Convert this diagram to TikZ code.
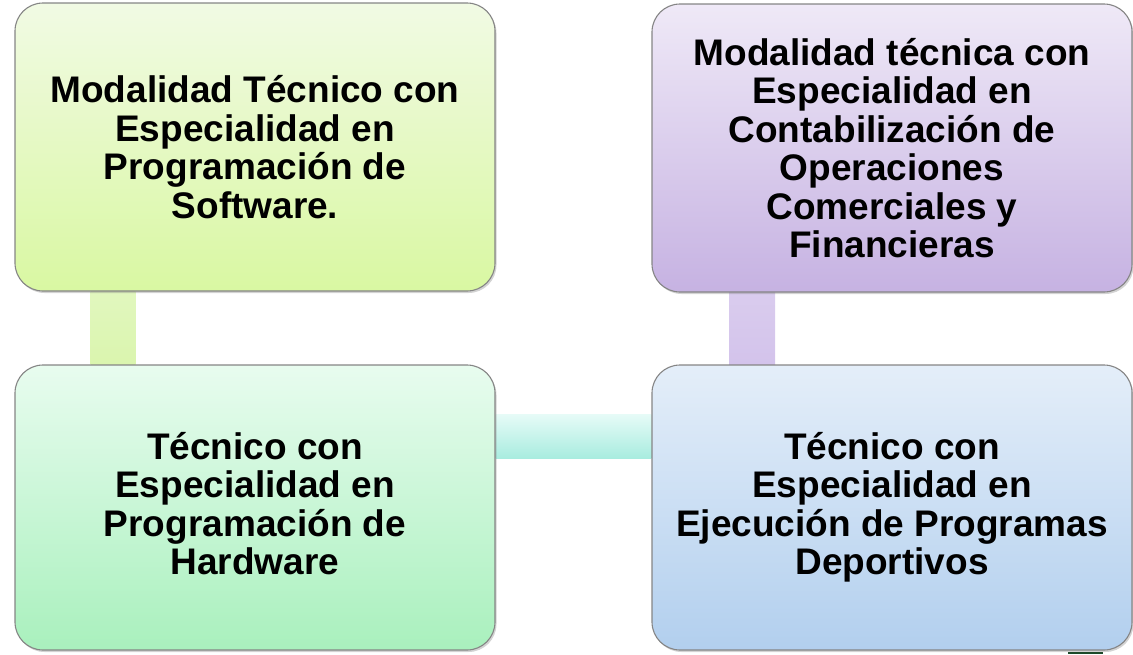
\documentclass[tikz,border=0pt]{standalone}
\usepackage{fontspec}
\setmainfont{Liberation Sans}
\usetikzlibrary{shadows,backgrounds}
\definecolor{boxborder}{HTML}{858585}
\definecolor{gAtop}{HTML}{F1FAE4}
\definecolor{gAbot}{HTML}{D9F8A2}
\definecolor{pAtop}{HTML}{EFE9F7}
\definecolor{pAbot}{HTML}{C6B2E2}
\definecolor{mAtop}{HTML}{E8FCEF}
\definecolor{mAbot}{HTML}{A9F0BD}
\definecolor{bAtop}{HTML}{E4EEF9}
\definecolor{bAbot}{HTML}{B2CFEE}
\definecolor{cgreen}{HTML}{DAF5AE}
\definecolor{cpurple}{HTML}{D3C3EB}
\definecolor{ctealtop}{HTML}{E6FBF7}
\definecolor{ctealbot}{HTML}{A8ECDF}
\definecolor{darkmark}{HTML}{1E4A2A}
\begin{document}
\begin{tikzpicture}[x=1pt,y=-1pt,
  box/.style={draw=boxborder, line width=1.1pt, rounded corners=28pt,
    minimum width=480pt, minimum height=288pt, align=center, inner sep=0pt,
    font=\bfseries\fontsize{37}{38.5}\selectfont,
    drop shadow={shadow xshift=1.5pt, shadow yshift=-2pt, opacity=0.35}},
  lowbox/.style={box, minimum height=285pt}]
\useasboundingbox (0,0) rectangle (1133,654);
\node[box, top color=gAtop, bottom color=gAbot] (tl) at (255,147)
  {Modalidad Técnico con\\Especialidad en\\Programación de\\Software.};
\node[box, top color=pAtop, bottom color=pAbot] (tr) at (892,148)
  {Modalidad técnica con\\Especialidad en\\Contabilización de\\Operaciones\\Comerciales y\\Financieras};
\node[lowbox, top color=mAtop, bottom color=mAbot] (bl) at (255,507.5)
  {Técnico con\\Especialidad en\\Programación de\\Hardware\vphantom{p}};
\node[lowbox, top color=bAtop, bottom color=bAbot] (br) at (892,507.5)
  {Técnico con\\Especialidad en\\Ejecución de Programas\\Deportivos};
\begin{scope}[on background layer]
  \path[top color=cgreen!80!white, bottom color=cgreen] ([xshift=-164.5pt]tl.south) rectangle ([xshift=-119.5pt]bl.north);
  \path[top color=cpurple!85!white, bottom color=cpurple] ([xshift=-163pt]tr.south) rectangle ([xshift=-117pt]br.north);
  \path[top color=ctealtop, bottom color=ctealbot] ([yshift=93pt]bl.east) rectangle ([yshift=49pt]br.west);
\end{scope}
\fill[darkmark] (1068,652) rectangle (1103,654);
\end{tikzpicture}
\end{document}
